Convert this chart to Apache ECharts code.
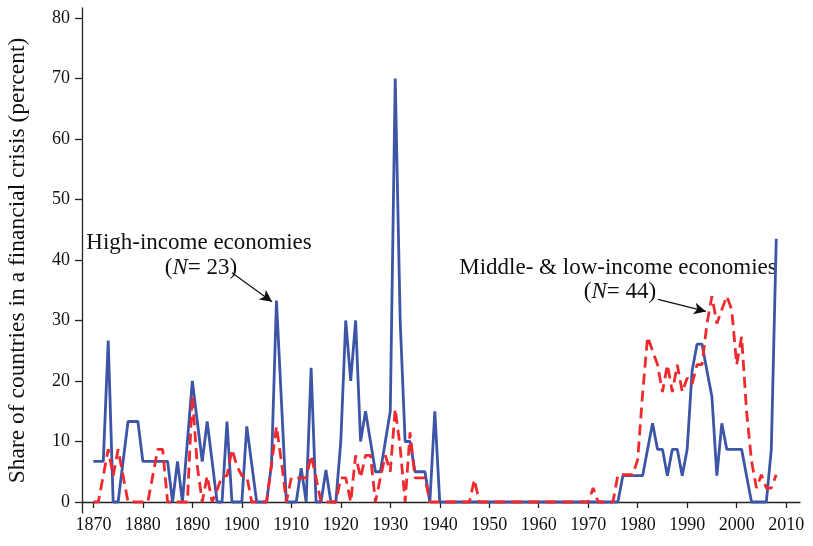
<!DOCTYPE html>
<html>
<head>
<meta charset="utf-8">
<script src="https://cdn.jsdelivr.net/npm/echarts@6/dist/echarts.min.js"></script>
<style>
  html, body { margin: 0; padding: 0; background: #fff; }
  #chart { width: 813px; height: 546px; }
</style>
</head>
<body>
<div id="chart"></div>
<script>
const years = [
  1870, 1871, 1872, 1873, 1874, 1875, 1876, 1877, 1878, 1879,
  1880, 1881, 1882, 1883, 1884, 1885, 1886, 1887, 1888, 1889,
  1890, 1891, 1892, 1893, 1894, 1895, 1896, 1897, 1898, 1899,
  1900, 1901, 1902, 1903, 1904, 1905, 1906, 1907, 1908, 1909,
  1910, 1911, 1912, 1913, 1914, 1915, 1916, 1917, 1918, 1919,
  1920, 1921, 1922, 1923, 1924, 1925, 1926, 1927, 1928, 1929,
  1930, 1931, 1932, 1933, 1934, 1935, 1936, 1937, 1938, 1939,
  1940, 1941, 1942, 1943, 1944, 1945, 1946, 1947, 1948, 1949,
  1950, 1951, 1952, 1953, 1954, 1955, 1956, 1957, 1958, 1959,
  1960, 1961, 1962, 1963, 1964, 1965, 1966, 1967, 1968, 1969,
  1970, 1971, 1972, 1973, 1974, 1975, 1976, 1977, 1978, 1979,
  1980, 1981, 1982, 1983, 1984, 1985, 1986, 1987, 1988, 1989,
  1990, 1991, 1992, 1993, 1994, 1995, 1996, 1997, 1998, 1999,
  2000, 2001, 2002, 2003, 2004, 2005, 2006, 2007, 2008,
];

// high-income economies (N = 23)
const highIncome = [
  6.7, 6.7, 6.7, 26.7, 0, 0, 6.7, 13.3, 13.3, 13.3,
  6.7, 6.7, 6.7, 6.7, 6.7, 6.7, 0, 6.7, 0, 10,
  20, 13.3, 6.7, 13.3, 6.7, 0, 0, 13.3, 0, 0,
  0, 12.5, 6.25, 0, 0, 0, 6.25, 33.3, 16.7, 0,
  0, 0, 5.6, 0, 22.2, 0, 0, 5.3, 0, 0,
  10, 30, 20, 30, 10, 15, 10, 5, 5, 10,
  15, 70, 30, 10, 10, 5, 5, 5, 0, 15,
  0, 0, 0, 0, 0, 0, 0, 0, 0, 0,
  0, 0, 0, 0, 0, 0, 0, 0, 0, 0,
  0, 0, 0, 0, 0, 0, 0, 0, 0, 0,
  0, 0, 0, 0, 0, 0, 0, 4.35, 4.35, 4.35,
  4.35, 4.35, 8.7, 13, 8.7, 8.7, 4.35, 8.7, 8.7, 4.35,
  8.7, 21.7, 26.1, 26.1, 21.7, 17.4, 4.35, 13, 8.7, 8.7,
  8.7, 8.7, 4.35, 0, 0, 0, 0, 8.7, 43.5,
];

// middle- & low-income economies (N = 44)
const lowIncome = [
  0, 0, 4.35, 8.7, 4.35, 8.7, 4.35, 0, 0, 0,
  0, 0, 4.35, 8.7, 8.7, 0, 0, 0, 0, 0,
  17.6, 5.9, 0, 4.3, 0, 2, 4.3, 4.3, 8.7, 6,
  4.3, 4.3, 0, 0, 0, 0, 6.2, 12.5, 6.7, 0,
  4, 4, 4, 4, 7.7, 4, 0, 0, 0, 0,
  4, 4, 0, 7.7, 4, 7.7, 7.7, 0, 4, 7.7,
  5, 15.4, 9, 0, 11.5, 4, 4, 4, 0, 0,
  0, 0, 0, 0, 0, 0, 0, 3.7, 0, 0,
  0, 0, 0, 0, 0, 0, 0, 0, 0, 0,
  0, 0, 0, 0, 0, 0, 0, 0, 0, 0,
  0, 2.3, 0, 0, 0, 0, 4.5, 4.5, 4.5, 4.5,
  7, 18, 27.3, 25, 22.7, 18.2, 22.7, 18.2, 22.7, 18.2,
  20.5, 19.5, 22.7, 22.7, 29.5, 34, 29.5, 31.8, 34, 31.8,
  22.7, 27.3, 15, 6.8, 2.3, 4.5, 2.3, 2.3, 4.5,
];

const xTicks = [1870, 1880, 1890, 1900, 1910, 1920, 1930, 1940, 1950, 1960, 1970, 1980, 1990, 2000, 2010];
const yTicks = [0, 10, 20, 30, 40, 50, 60, 70, 80];

// arrows from the labels to the lines, in data units
const highArrow = [[1898, 37.9], [1906.1, 33.1]];
const lowArrow = [[1984.1, 33.5], [1993.8, 31.5]];

const serif = "'Liberation Serif', 'Times New Roman', serif";
const blue = "#3c55a6";
const red = "#ee2a2e";
const ink = "#111";

const chart = echarts.init(document.getElementById("chart"));

const axisLine = { show: true, lineStyle: { color: "#222", width: 1.3 } };
const tickStyle = { color: "#222", width: 1.3 };

function arrow(points) {
  return {
    silent: true,
    symbol: ["none", "arrow"],
    symbolSize: [9, 12],
    label: { show: false },
    lineStyle: { color: ink, width: 1.2, type: "solid" },
    data: [[{ coord: points[0] }, { coord: points[1] }]],
  };
}

function label(text, x, y) {
  return {
    type: "text",
    position: [x, y],
    style: {
      text, align: "center", verticalAlign: "middle",
      font: "23px " + serif, fill: ink,
      rich: { n: { fontStyle: "italic", fontFamily: serif, fontSize: 23, fill: ink } },
    },
  };
}

chart.setOption({
  animation: false,
  grid: { left: 82, right: 13, top: 8, bottom: 33, outerBoundsMode: "none", containLabel: false },
  xAxis: {
    type: "value",
    min: 1867.7,
    max: 2012.8,
    axisLine,
    splitLine: { show: false },
    axisTick: { show: true, length: 6, lineStyle: tickStyle, customValues: xTicks },
    axisLabel: {
      customValues: xTicks, color: ink, fontFamily: serif, fontSize: 18, margin: 3,
      formatter: (v) => String(v),
    },
  },
  yAxis: {
    type: "value",
    min: -1.82,
    max: 81.65,
    axisLine,
    splitLine: { show: false },
    name: "Share of countries in a financial crisis (percent)",
    nameLocation: "middle",
    nameGap: 52,
    nameTextStyle: { color: ink, fontFamily: serif, fontSize: 23.5 },
    axisTick: { show: true, length: 7, lineStyle: tickStyle, customValues: yTicks },
    axisLabel: { customValues: yTicks, color: ink, fontFamily: serif, fontSize: 18, margin: 12 },
  },
  series: [
    {
      name: "High-income economies",
      type: "line",
      symbol: "none",
      clip: false,
      lineStyle: { color: blue, width: 2.8 },
      data: years.map((y, i) => [y, highIncome[i]]),
      markLine: arrow(highArrow),
    },
    {
      name: "Middle- & low-income economies",
      type: "line",
      symbol: "none",
      clip: false,
      lineStyle: { color: red, width: 2.8, type: [11, 6] },
      data: years.map((y, i) => [y, lowIncome[i]]),
      markLine: arrow(lowArrow),
    },
  ],
  graphic: [
    label("High-income economies", 199, 243),
    label("({n|N}= 23)", 201, 268),
    label("Middle- & low-income economies", 618, 268),
    label("({n|N}= 44)", 620, 292),
  ],
});
</script>
</body>
</html>
